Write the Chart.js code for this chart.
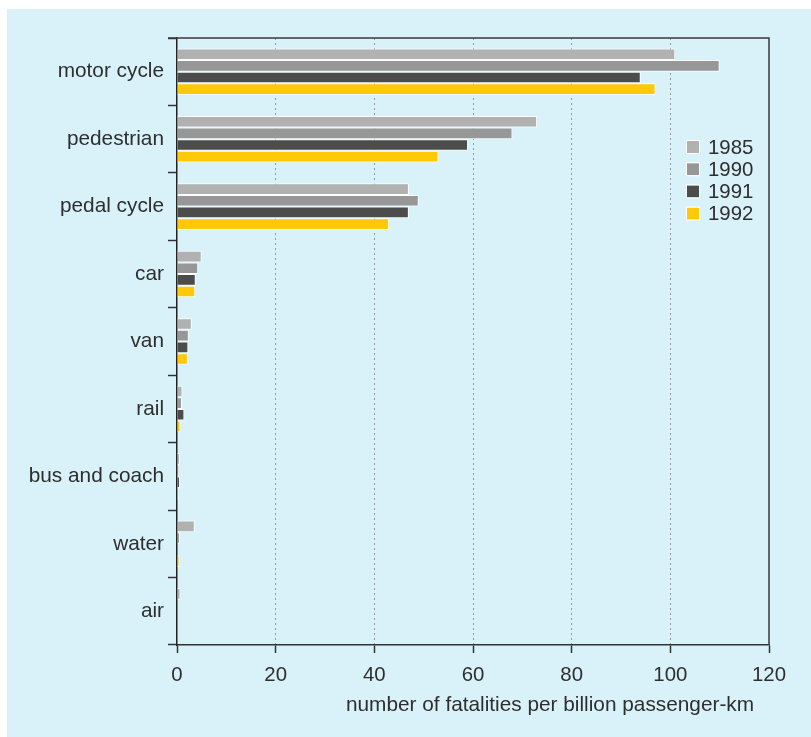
<!DOCTYPE html>
<html>
<head>
<meta charset="utf-8">
<script src="https://cdn.jsdelivr.net/npm/chart.js@4/dist/chart.umd.min.js"></script>
<style>
  html, body { margin: 0; padding: 0; background: #ffffff; }
  #wrap { width: 811px; height: 737px; }
</style>
</head>
<body>
<div id="wrap"><canvas id="c" width="811" height="737"></canvas></div>
<script>
const categories = ["motor cycle", "pedestrian", "pedal cycle", "car", "van", "rail", "bus and coach", "water", "air"];
const seriesLabels = ["1985", "1990", "1991", "1992"];
const values1985 = [101, 73, 47, 5.0, 3.0, 1.1, 0.6, 3.6, 0.7];
const values1990 = [110, 68, 49, 4.3, 2.4, 1.0, 0.4, 0.6, 0];
const values1991 = [94, 59, 47, 3.8, 2.3, 1.5, 0.6, 0, 0];
const values1992 = [97, 53, 43, 3.7, 2.2, 0.7, 0.3, 0.5, 0];
const xTicks = [0, 20, 40, 60, 80, 100, 120];
const xTitle = "number of fatalities per billion passenger-km";

const colors = ["#b1b1b1", "#979797", "#4d4c4d", "#ffc907"];
const seriesValues = [values1985, values1990, values1991, values1992];
const textColor = "#2e2e2e";
const FONT = "'Liberation Sans', Arial, Helvetica, sans-serif";

const panelPlugin = {
  id: 'panel',
  beforeDraw(chart) {
    const ctx = chart.ctx;
    ctx.save();
    ctx.fillStyle = '#d9f2f9';
    ctx.fillRect(7, 9, 804, 728);
    ctx.restore();
  }
};

const framePlugin = {
  id: 'frame',
  afterDraw(chart) {
    const a = chart.chartArea, ctx = chart.ctx;
    ctx.save();
    ctx.strokeStyle = '#3a3a3a';
    ctx.lineWidth = 1.5;
    ctx.setLineDash([]);
    ctx.beginPath();
    ctx.moveTo(a.left - 9, a.top);
    ctx.lineTo(a.right, a.top);
    ctx.lineTo(a.right, a.bottom);
    ctx.stroke();
    // x-axis title
    ctx.fillStyle = textColor;
    ctx.font = "20.8px " + FONT;
    ctx.textAlign = 'center';
    ctx.textBaseline = 'middle';
    ctx.fillText(chart.options.scales.x.title.text, 550, 705);
    ctx.restore();
  }
};

const legendPlugin = {
  id: 'boxLegend',
  afterDraw(chart) {
    const ctx = chart.ctx;
    ctx.save();
    ctx.font = "20.4px " + FONT;
    ctx.textBaseline = 'middle';
    ctx.textAlign = 'left';
    chart.data.datasets.forEach((ds, i) => {
      const cy = 147 + i * 22.2;
      ctx.fillStyle = ds.backgroundColor;
      ctx.fillRect(687, cy - 6, 12, 12);
      ctx.strokeStyle = '#ffffff';
      ctx.lineWidth = 1;
      ctx.strokeRect(686.5, cy - 6.5, 13, 13);
      ctx.fillStyle = textColor;
      ctx.fillText(ds.label, 708, cy + 1);
    });
    ctx.restore();
  }
};

new Chart(document.getElementById('c'), {
  type: 'bar',
  data: {
    labels: categories,
    datasets: seriesLabels.map((lab, i) => ({
      label: lab,
      data: seriesValues[i],
      backgroundColor: colors[i],
      borderColor: '#ffffff',
      borderWidth: 1,
      borderSkipped: 'start',
      categoryPercentage: 0.69,
      barPercentage: 1.0
    }))
  },
  options: {
    indexAxis: 'y',
    responsive: false,
    animation: false,
    devicePixelRatio: 1,
    layout: { padding: { left: 0, top: 38, right: 42, bottom: 0 } },
    plugins: {
      legend: { display: false },
      tooltip: { enabled: false },
      title: { display: false }
    },
    scales: {
      x: {
        type: 'linear',
        min: 0,
        max: 120,
        afterFit(s) { s.height = 92; },
        afterBuildTicks(s) { s.ticks = xTicks.map(v => ({ value: v })); },
        ticks: {
          color: textColor,
          font: { family: FONT, size: 20.4 },
          padding: 10,
          maxRotation: 0
        },
        grid: {
          color: (c) => (c.tick && c.tick.value > 0 && c.tick.value < 120) ? '#8f9a9e' : 'rgba(0,0,0,0)',
          lineWidth: 1,
          drawTicks: true,
          tickLength: 8,
          tickColor: '#333333',
          tickWidth: 1.5,
          tickBorderDash: []
        },
        border: { display: true, color: '#333333', width: 1.5, dash: [2, 3] },
        title: { display: false, text: xTitle }
      },
      y: {
        type: 'category',
        afterFit(s) { s.width = 177; },
        ticks: {
          color: textColor,
          font: { family: FONT, size: 20.8 },
          padding: 4
        },
        grid: {
          offset: true,
          drawOnChartArea: false,
          drawTicks: true,
          tickLength: 9,
          tickColor: '#333333',
          tickWidth: 1.5
        },
        border: { display: true, color: '#222222', width: 1.5 }
      }
    }
  },
  plugins: [panelPlugin, framePlugin, legendPlugin]
});
</script>
</body>
</html>
